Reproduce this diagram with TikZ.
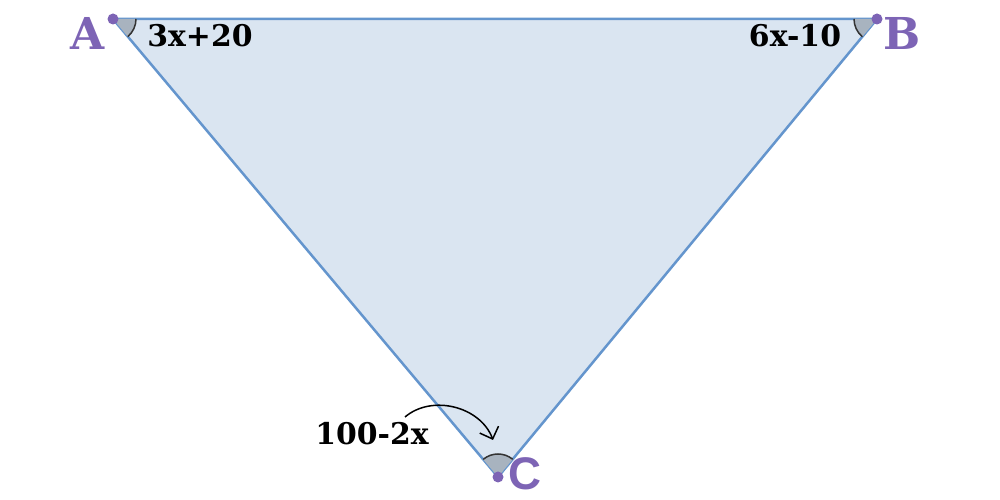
\documentclass[tikz,border=0pt]{standalone}
\usepackage{fontspec}
\setmainfont{DejaVu Serif}
\newfontfamily\labsans{Liberation Sans}
\usetikzlibrary{angles,arrows.meta}

\definecolor{triline}{HTML}{6495CD}
\definecolor{trifill}{HTML}{DAE5F1}
\definecolor{vertpurple}{HTML}{7D64B5}
\definecolor{anglegrey}{HTML}{A8B3BF}

\tikzset{
  vertlabel/.style={text=vertpurple,font=\fontsize{25}{25}\selectfont\bfseries,inner sep=0pt},
  anglelabel/.style={text=black,font=\fontsize{17}{17}\selectfont\bfseries,inner sep=0pt},
  vertdot/.style={fill=vertpurple,draw=none},
  anglemark/.style={draw=black!80,fill=anglegrey,line width=0.3mm,angle radius=0.46cm}
}

\begin{document}
\begin{tikzpicture}

\useasboundingbox (0,0) rectangle (20,10);

\coordinate (A) at (2.26,9.62);
\coordinate (B) at (17.54,9.62);
\coordinate (C) at (9.96,0.46);

\draw [triline, fill=trifill, line width=0.5mm] (A) -- (B) -- (C) -- cycle;

\pic [anglemark] {angle=C--A--B};
\pic [anglemark] {angle=A--B--C};
\pic [anglemark] {angle=B--C--A};

\draw [vertdot] (A) circle (0.11);
\draw [vertdot] (B) circle (0.11);
\draw [vertdot] (C) circle (0.11);

\node [vertlabel] (labA) at (1.76,9.34) {A};
\node [vertlabel] (labB) at (18.04,9.34) {B};
\node [vertlabel, font=\labsans\fontsize{26}{26}\selectfont\bfseries] (labC) at (10.5,0.52) {C};

\node [anglelabel] (angA) at (4.0,9.28) {3x+20};
\node [anglelabel] (angB) at (15.9,9.28) {6x-10};
\node [anglelabel] (angC) at (7.44,1.32) {100-2x};

\coordinate (arrS) at (8.1,1.66);
\coordinate (arrE) at (9.86,1.2);
\draw [-{Straight Barb[length=2mm]}, line width=0.3mm] (arrS) to [bend left=55] (arrE);

\end{tikzpicture}
\end{document}
